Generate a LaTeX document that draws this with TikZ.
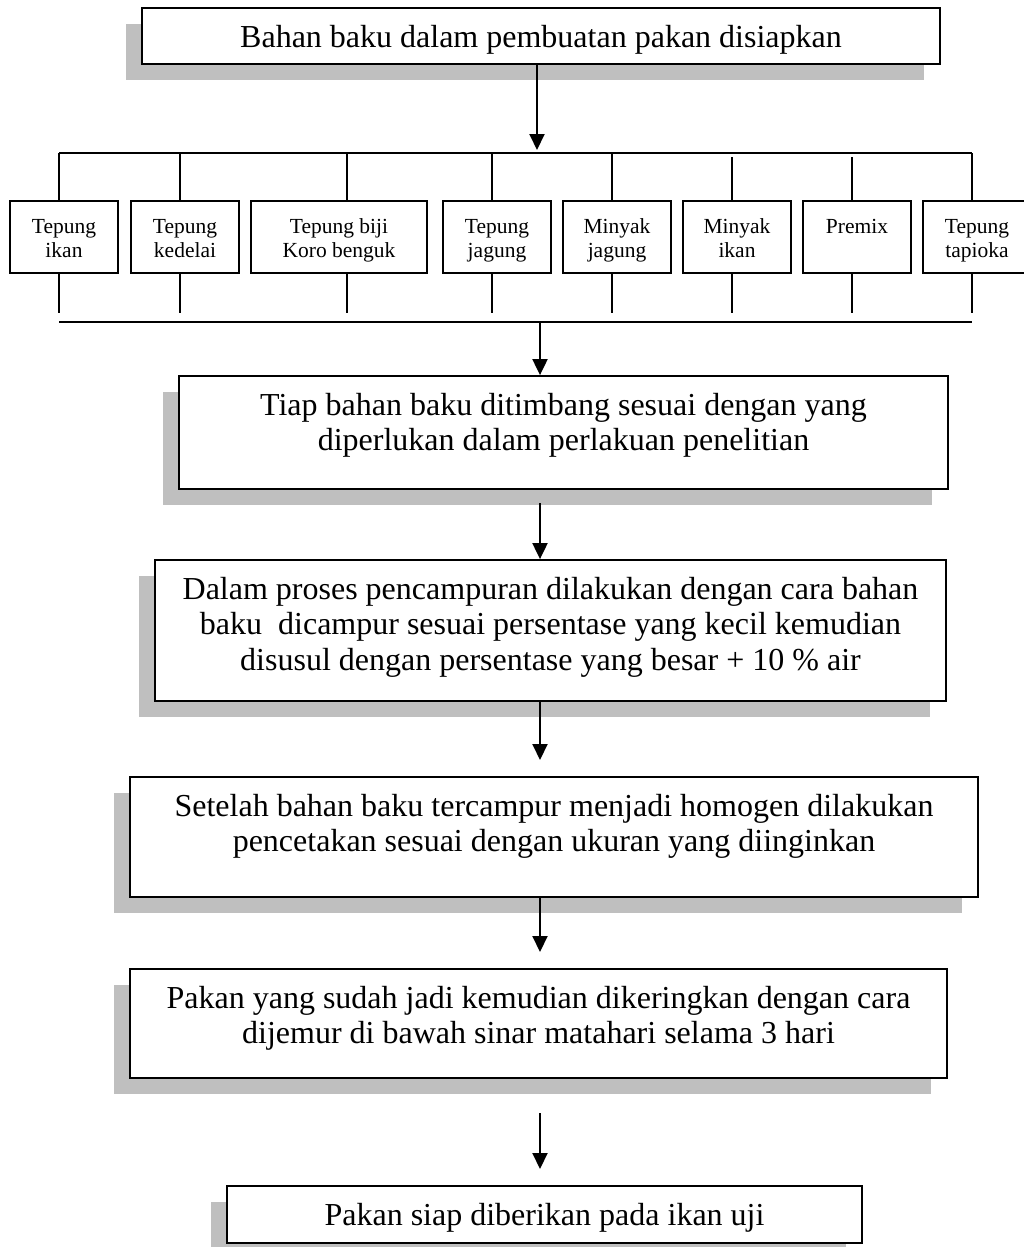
\documentclass[tikz,border=0pt]{standalone}
\usepackage{fontspec}
\setmainfont{Liberation Serif}
\usetikzlibrary{arrows.meta,shadows}
\definecolor{shadowgray}{RGB}{191,191,191}
\newcommand{\mylines}[1]{\begin{tabular}[t]{@{}c@{}}#1\end{tabular}}
\begin{document}
\begin{tikzpicture}[x=1pt,y=-1pt,
  bigbox/.style={draw,line width=1.8pt,fill=white,rectangle,inner sep=0pt,
     drop shadow={shadow xshift=-16pt,shadow yshift=-16pt,fill=shadowgray,opacity=1}},
  smallbox/.style={draw,line width=1.6pt,fill=white,rectangle,inner sep=0pt,minimum height=72pt},
  bigtext/.style={anchor=base,inner sep=0pt,font=\fontsize{32}{35.5}\selectfont},
  smalltext/.style={anchor=base,inner sep=0pt,font=\fontsize{21.5}{24}\selectfont},
  conn/.style={line width=1.5pt},
  bus/.style={line width=2.5pt},
  arrow/.style={line width=2pt,-{Triangle[length=16pt,width=15pt]}}]
\useasboundingbox[fill=white] (0,0) rectangle (1024,1247);

% main boxes
\node[bigbox,minimum width=798pt,minimum height=56pt] (b1) at (541,36) {};
\node[bigtext] (t1) at ([yshift=-40pt]b1.north) {\mylines{Bahan baku dalam pembuatan pakan disiapkan}};

\node[bigbox,minimum width=769pt,minimum height=113pt] (b2) at (563.5,432.5) {};
\node[bigtext] (t2) at ([yshift=-40pt]b2.north) {\mylines{Tiap bahan baku ditimbang sesuai dengan yang\\diperlukan dalam perlakuan penelitian}};

\node[bigbox,minimum width=791pt,minimum height=141pt] (b3) at (550.5,630.5) {};
\node[bigtext] (t3) at ([yshift=-40pt]b3.north) {\mylines{Dalam proses pencampuran dilakukan dengan cara bahan\\baku\ \ dicampur sesuai persentase yang kecil kemudian\\disusul dengan persentase yang besar + 10 \% air}};

\node[bigbox,minimum width=848pt,minimum height=120pt] (b4) at (554,837) {};
\node[bigtext] (t4) at ([yshift=-40pt]b4.north) {\mylines{Setelah bahan baku tercampur menjadi homogen dilakukan\\pencetakan sesuai dengan ukuran yang diinginkan}};

\node[bigbox,minimum width=817pt,minimum height=109pt] (b5) at (538.5,1023.5) {};
\node[bigtext] (t5) at ([yshift=-40pt]b5.north) {\mylines{Pakan yang sudah jadi kemudian dikeringkan dengan cara\\dijemur di bawah sinar matahari selama 3 hari}};

\node[bigbox,minimum width=635pt,minimum height=57pt] (b6) at (544.5,1214.5) {};
\node[bigtext] (t6) at ([yshift=-40pt]b6.north) {\mylines{Pakan siap diberikan pada ikan uji}};

% ingredient boxes
\node[smallbox,minimum width=108pt] (s1) at (64,237) {};
\node[smallbox,minimum width=108pt] (s2) at (185,237) {};
\node[smallbox,minimum width=176pt] (s3) at (339,237) {};
\node[smallbox,minimum width=108pt] (s4) at (497,237) {};
\node[smallbox,minimum width=108pt] (s5) at (617,237) {};
\node[smallbox,minimum width=108pt] (s6) at (737,237) {};
\node[smallbox,minimum width=108pt] (s7) at (857,237) {};
\node[smallbox,minimum width=108pt] (s8) at (977,237) {};
\node[smalltext] (u1) at ([yshift=-33pt]s1.north) {\mylines{Tepung\\ikan}};
\node[smalltext] (u2) at ([yshift=-33pt]s2.north) {\mylines{Tepung\\kedelai}};
\node[smalltext] (u3) at ([yshift=-33pt]s3.north) {\mylines{Tepung biji\\Koro benguk}};
\node[smalltext] (u4) at ([yshift=-33pt]s4.north) {\mylines{Tepung\\jagung}};
\node[smalltext] (u5) at ([yshift=-33pt]s5.north) {\mylines{Minyak\\jagung}};
\node[smalltext] (u6) at ([yshift=-33pt]s6.north) {\mylines{Minyak\\ikan}};
\node[smalltext] (u7) at ([yshift=-33pt]s7.north) {\mylines{Premix}};
\node[smalltext] (u8) at ([yshift=-33pt]s8.north) {\mylines{Tepung\\tapioka}};

% top bus
\coordinate (tl) at (59,153);
\coordinate (tr) at (972,153);
\draw[bus] (tl) -- (tr);
\coordinate (v1) at (59,153);
\coordinate (v2) at (180,153);
\coordinate (v3) at (347,153);
\coordinate (v4) at (492,153);
\coordinate (v5) at (612,153);
\coordinate (v6) at (732,157);
\coordinate (v7) at (852,157);
\coordinate (v8) at (972,153);
\foreach \i in {1,...,8} {\draw[conn] (v\i) -- (v\i |- s\i.north);}

% bottom verticals and bus
\coordinate (w1) at (59,313);
\coordinate (w2) at (180,313);
\coordinate (w3) at (347,313);
\coordinate (w4) at (492,313);
\coordinate (w5) at (612,313);
\coordinate (w6) at (732,313);
\coordinate (w7) at (852,313);
\coordinate (w8) at (972,313);
\foreach \i in {1,...,8} {\draw[conn] (s\i.south -| w\i) -- (w\i);}
\coordinate (bl) at (59,322);
\coordinate (br) at (972,322);
\draw[bus] (bl) -- (br);

% arrows
\coordinate (a1) at (537,150);
\draw[arrow] (b1.south -| a1) -- (a1);
\coordinate (a2) at (540,322);
\draw[arrow] (a2) -- (a2 |- b2.north);
\coordinate (a3) at (540,503);
\draw[arrow] (a3) -- (a3 |- b3.north);
\coordinate (a4) at (540,760);
\draw[arrow] (b3.south -| a4) -- (a4);
\coordinate (a5) at (540,952);
\draw[arrow] (b4.south -| a5) -- (a5);
\coordinate (a6s) at (540,1113);
\coordinate (a6) at (540,1169);
\draw[arrow] (a6s) -- (a6);
\end{tikzpicture}
\end{document}
